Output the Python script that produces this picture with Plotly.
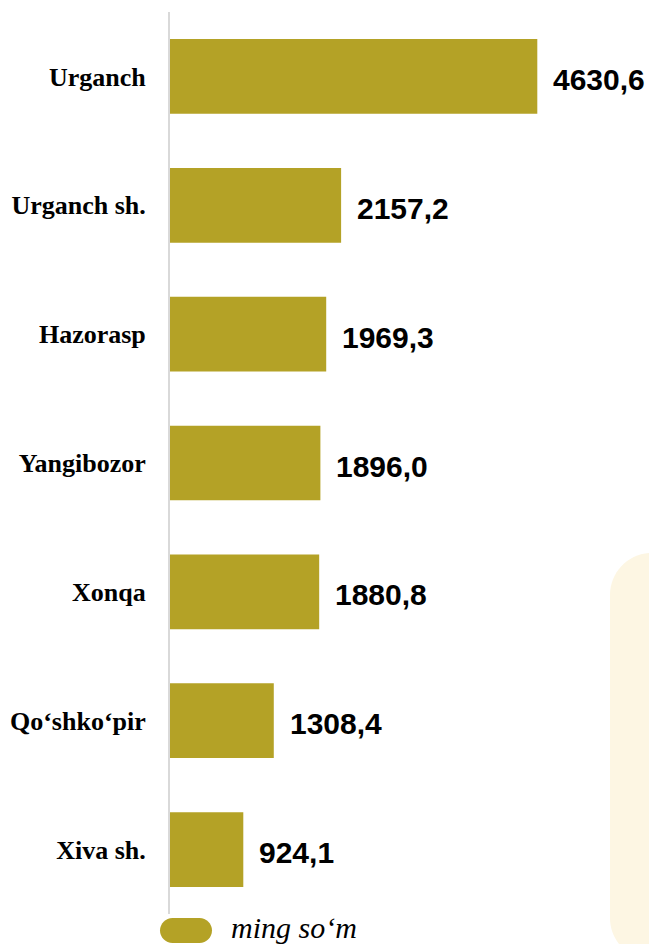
import plotly.graph_objects as go

categories = ["Urganch", "Urganch sh.", "Hazorasp", "Yangibozor", "Xonqa", "Qo‘shko‘pir", "Xiva sh."]
values = [4630.6, 2157.2, 1969.3, 1896.0, 1880.8, 1308.4, 924.1]
unit_label = "ming so‘m"

W, H = 649, 944
ML, MR, MT, MB = 170, 49, 12, 30
PW, PH = W - ML - MR, H - MT - MB

def px(x):
    return (x - ML) / PW

def py(y):
    return (H - MB - y) / PH

BAR = "#b4a226"
CREAM = "#fdf6e3"

fig = go.Figure()
fig.add_trace(go.Bar(
    x=values, y=categories, orientation="h",
    marker=dict(color=BAR, line=dict(width=0)),
    hoverinfo="x+y", showlegend=False,
))

for c, v in zip(categories, values):
    fig.add_annotation(
        x=v, y=c, xref="x", yref="y",
        text="<b>" + f"{v:.1f}".replace(".", ",") + "</b>",
        xanchor="left", yanchor="middle", xshift=14, yshift=-3,
        showarrow=False,
        font=dict(family="Liberation Sans, Arial", size=30, color="#000000"),
    )

# cream rounded panel on the right
r = 42
x0, y0, x1, y1 = 610, 553, 700, 960
k = 0.5523 * r
path = (
    f"M {px(x0)},{py(y0 + r)} "
    f"C {px(x0)},{py(y0 + r - k)} {px(x0 + r - k)},{py(y0)} {px(x0 + r)},{py(y0)} "
    f"L {px(x1)},{py(y0)} L {px(x1)},{py(y1)} L {px(x0 + r)},{py(y1)} "
    f"C {px(x0 + r - k)},{py(y1)} {px(x0)},{py(y1 - r + k)} {px(x0)},{py(y1 - r)} Z"
)
fig.add_shape(type="path", path=path, xref="paper", yref="paper",
              fillcolor=CREAM, line=dict(width=0), layer="below")

# legend pill
lx0, lx1, ly0, ly1 = 160, 212, 918, 943
rr = (ly1 - ly0) / 2
kk = 0.5523 * rr
cy = (ly0 + ly1) / 2
pill = (
    f"M {px(lx0 + rr)},{py(ly0)} L {px(lx1 - rr)},{py(ly0)} "
    f"C {px(lx1 - rr + kk)},{py(ly0)} {px(lx1)},{py(cy - kk)} {px(lx1)},{py(cy)} "
    f"C {px(lx1)},{py(cy + kk)} {px(lx1 - rr + kk)},{py(ly1)} {px(lx1 - rr)},{py(ly1)} "
    f"L {px(lx0 + rr)},{py(ly1)} "
    f"C {px(lx0 + rr - kk)},{py(ly1)} {px(lx0)},{py(cy + kk)} {px(lx0)},{py(cy)} "
    f"C {px(lx0)},{py(cy - kk)} {px(lx0 + rr - kk)},{py(ly0)} {px(lx0 + rr)},{py(ly0)} Z"
)
fig.add_shape(type="path", path=pill, xref="paper", yref="paper",
              fillcolor=BAR, line=dict(width=0))
fig.add_annotation(
    x=px(229), y=py(cy - 3), xref="paper", yref="paper",
    text=f"<i>{unit_label}</i>", xanchor="left", yanchor="middle",
    showarrow=False,
    font=dict(family="Liberation Serif, Times New Roman", size=30, color="#000000"),
)

fig.update_layout(
    width=W, height=H,
    margin=dict(l=ML, r=MR, t=MT, b=MB, pad=0, autoexpand=False),
    paper_bgcolor="white", plot_bgcolor="rgba(0,0,0,0)",
    bargap=0.42,
    xaxis=dict(range=[0, 5421], visible=False, fixedrange=True, automargin=False),
    yaxis=dict(
        categoryorder="array", categoryarray=categories, autorange="reversed",
        showline=True, linecolor="#d9d9d9", linewidth=2,
        showgrid=False, zeroline=False, ticks="",
        ticklabelstandoff=17, automargin=False,
        tickprefix="<b>", ticksuffix="</b>",
        tickfont=dict(family="Liberation Serif, Times New Roman", size=26, color="#000000"),
        fixedrange=True,
    ),
    font=dict(family="Liberation Serif, Times New Roman"),
)

fig.write_html(
    "out.html",
    config={"displayModeBar": False},
    post_script="document.body.style.margin='0';document.body.style.padding='0';document.body.style.overflow='hidden';",
)
